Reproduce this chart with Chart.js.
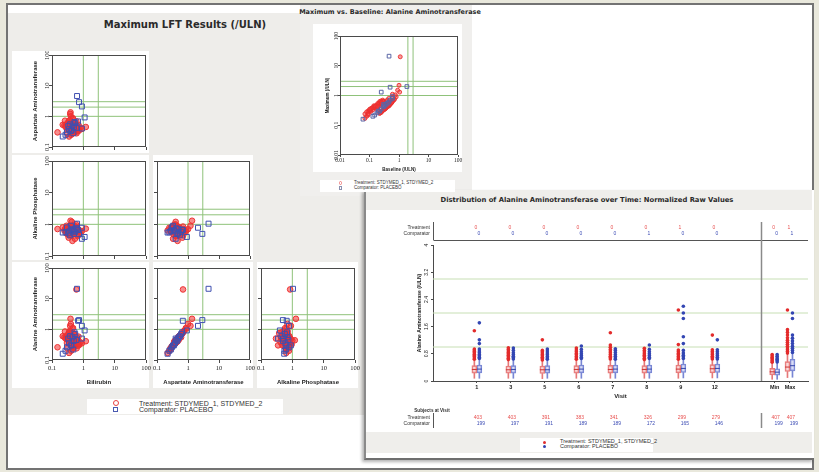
<!DOCTYPE html>
<html><head><meta charset="utf-8">
<title>LFT charts</title>
<script src="https://cdn.jsdelivr.net/npm/chart.js@4.4.1/dist/chart.umd.min.js"></script>
<style>
html,body{margin:0;padding:0}
body{width:819px;height:472px;position:relative;overflow:hidden;background:#e9e8dc;font-family:"Liberation Sans",Arial,sans-serif;color:#222}
.a{position:absolute}
canvas{position:absolute;display:block}
.t{position:absolute;white-space:nowrap;font-family:"DejaVu Sans",Verdana,sans-serif;font-weight:bold;color:#2a2a2a;transform:translate(-50%,-50%);line-height:1}
.lt{position:absolute;white-space:nowrap;transform:translateY(-50%);line-height:1;color:#333}
.circ{position:absolute;border:1px solid #e84040;border-radius:50%;box-sizing:border-box}
.sq{position:absolute;border:1px solid #4a5ab0;box-sizing:border-box}
.dot{position:absolute;border-radius:50%}
</style></head>
<body>
<div class="a" style="left:6px;top:3px;width:804px;height:463px;border:2px solid #737373;background:#fff"></div>
<div class="a" style="left:8px;top:13px;width:358px;height:402px;background:#eeedea"></div>
<div class="a" style="left:300px;top:5px;width:172px;height:191px;background:#f0efed"></div>
<div class="a" style="left:364px;top:190px;width:448px;height:268px;background:#fff;border-left:2px solid #8a8a8a;border-bottom:2px solid #6e6e6e;box-shadow:-2px 2px 3px rgba(0,0,0,.3)"></div>
<div class="a" style="left:366px;top:190px;width:446px;height:20px;background:#efeeeb"></div>
<div class="a" style="left:366px;top:432px;width:446px;height:21px;background:#efeeeb"></div>

<!-- white plot cells -->
<div class="a" style="left:12px;top:51px;width:137px;height:102px;background:#fff"></div>
<div class="a" style="left:12px;top:155px;width:137px;height:105px;background:#fff"></div>
<div class="a" style="left:153px;top:155px;width:100px;height:105px;background:#fff"></div>
<div class="a" style="left:12px;top:262px;width:137px;height:126px;background:#fff"></div>
<div class="a" style="left:153px;top:262px;width:100px;height:126px;background:#fff"></div>
<div class="a" style="left:257px;top:262px;width:101px;height:126px;background:#fff"></div>
<div class="a" style="left:313px;top:24px;width:149px;height:148px;background:#fff"></div>

<!-- titles -->
<div class="t" style="left:185px;top:25px;font-size:10px">Maximum LFT Results (/ULN)</div>
<div class="t" style="left:390px;top:12px;font-size:6.5px">Maximum vs. Baseline: Alanine Aminotransferase</div>
<div class="t" style="left:587px;top:200px;font-size:6.8px">Distribution of Alanine Aminotransferase over Time: Normalized Raw Values</div>

<!-- legends -->
<div class="a" style="left:87px;top:399px;width:196px;height:15px;background:#fff"></div>
<div class="circ" style="left:113px;top:399.5px;width:6px;height:6px"></div>
<div class="sq" style="left:113px;top:406.5px;width:5px;height:5px"></div>
<div class="lt" style="left:139px;top:402.5px;font-size:7px">Treatment: STDYMED_1, STDYMED_2</div>
<div class="lt" style="left:139px;top:409.3px;font-size:7px">Comparator: PLACEBO</div>

<div class="a" style="left:320px;top:180px;width:135px;height:12px;background:#fff"></div>
<div class="circ" style="left:338.5px;top:181.2px;width:3.5px;height:3.5px;border-color:#f08080"></div>
<div class="sq" style="left:338.5px;top:186px;width:3.5px;height:3.5px;border-color:#8a90b0"></div>
<div class="lt" style="left:354px;top:183px;font-size:4.5px">Treatment: STDYMED_1, STDYMED_2</div>
<div class="lt" style="left:354px;top:187.8px;font-size:4.5px">Comparator: PLACEBO</div>

<div class="a" style="left:520px;top:438px;width:133px;height:14px;background:#fff"></div>
<div class="dot" style="left:542.5px;top:440.8px;width:3px;height:3px;background:#e03030"></div>
<div class="dot" style="left:542.5px;top:445.3px;width:3px;height:3px;background:#3344b0"></div>
<div class="lt" style="left:560px;top:442.3px;font-size:5.5px">Treatment: STDYMED_1, STDYMED_2</div>
<div class="lt" style="left:560px;top:446.8px;font-size:5.5px">Comparator: PLACEBO</div>

<script>
// ================= DATA =================
const logTicks = [0.1, 1, 10, 100];
const logTickLabels = ['0.1', '1', '10', '100'];
const midTicks = [0.01, 0.1, 1, 10, 100];
const midTickLabels = ['0.01', '0.1', '1', '10', '100'];
const refULN = [1, 2, 3];
const refULNvMatrix = [1, 3];
const refULNvMid = [2, 3];

// Treatment subjects: maximum values (/ULN)
const trtBili = [0.45,0.38,0.52,0.31,0.60,0.42,0.35,0.48,0.55,0.29,
                 0.40,0.50,0.66,0.36,0.44,0.33,0.58,0.47,0.27,0.72,
                 0.39,0.53,0.43,0.62,0.34,0.46,0.80,0.30,0.41,0.57,
                 0.37,0.49,0.25,0.68,0.44,0.51,0.32,0.90,0.40,0.54,
                 0.36,0.46,0.61,0.28,0.43,0.75,0.50,0.35,0.42,1.20,
                 0.22,0.56,0.39,0.47,0.64,0.33,0.45,0.15,0.60,0.38,
                 0.42,0.47,0.36,0.52,0.44,0.39,0.58,0.33,0.49,0.41,
                 0.46,0.35,0.55,0.43,0.30,0.50,0.38,0.63,0.45,0.34,
                 0.48,0.40,0.53,0.37,0.44,0.57,0.32,0.46,0.51,0.26,
                 0.43,0.55,0.38,0.49,0.70,0.41,0.36,0.45,0.53,0.31];
const trtAst  = [0.42,0.55,0.33,0.60,0.38,0.47,0.70,0.29,0.50,0.44,
                 0.36,0.62,0.41,0.52,0.27,0.48,0.39,0.85,0.45,0.34,
                 0.58,0.40,0.30,0.49,0.66,0.37,0.43,0.54,0.25,0.46,
                 0.75,0.35,0.51,0.42,0.31,0.60,0.47,0.39,1.00,0.33,
                 0.56,0.44,0.28,0.50,0.40,0.37,0.64,0.22,0.48,0.45,
                 0.53,0.36,1.35,0.41,0.32,0.57,0.46,0.30,0.69,1.20,
                 0.45,0.38,0.52,0.41,0.48,0.35,0.44,0.57,0.40,0.50,
                 0.33,0.47,0.43,0.55,0.39,0.46,0.62,0.36,0.42,0.51,
                 0.44,0.49,0.37,0.58,0.41,0.34,0.47,0.53,0.39,0.72,
                 0.48,0.31,0.45,0.40,0.52,0.43,0.36,0.88,0.46,0.27];
const trtAlt  = [0.40,0.60,0.30,0.55,0.42,0.50,0.80,0.25,0.45,0.48,
                 0.33,0.70,0.38,0.58,0.22,0.44,0.43,1.10,0.50,0.30,
                 0.65,0.36,0.28,0.55,0.75,0.40,0.38,0.62,0.20,0.50,
                 0.90,0.32,0.56,0.46,0.27,0.68,0.52,0.35,1.50,0.30,
                 0.62,0.40,0.24,0.56,0.44,0.33,0.72,0.17,0.53,0.41,
                 0.60,0.40,2.20,0.45,0.29,0.64,0.50,0.26,20.0,1.30,
                 0.48,0.36,0.58,0.40,0.52,0.33,0.47,0.63,0.38,0.55,
                 0.30,0.50,0.46,0.62,0.36,0.49,0.70,0.33,0.45,0.57,
                 0.46,0.54,0.35,0.66,0.44,0.31,0.50,0.60,0.37,0.85,
                 0.52,0.28,0.48,0.42,0.58,0.45,0.34,1.05,0.50,0.24];
const trtAlp  = [0.65,0.58,0.72,0.50,0.80,0.62,0.45,0.70,0.55,0.90,
                 0.60,0.68,0.42,0.75,0.64,0.52,1.00,0.59,0.70,0.48,
                 0.66,0.85,0.56,0.62,0.38,0.74,0.60,0.50,0.78,0.67,
                 0.54,0.95,0.63,0.46,0.72,0.58,0.82,0.61,0.70,0.35,
                 0.66,0.53,0.77,0.60,1.20,0.57,0.69,0.64,0.44,0.73,
                 0.80,0.62,1.30,0.50,0.68,0.59,0.30,0.71,0.85,0.90,
                 0.62,0.70,0.58,0.66,0.75,0.60,0.68,0.55,0.72,0.64,
                 0.67,0.59,0.74,0.63,0.56,0.70,0.65,0.78,0.61,0.69,
                 0.57,0.72,0.64,0.68,0.53,0.76,0.62,0.66,0.59,0.71,
                 0.74,0.61,0.67,0.58,0.70,0.63,0.88,0.65,0.56,0.62];
const trtAltBase = [0.15,0.55,0.10,0.22,0.40,0.20,0.45,0.22,0.14,0.42,
                 0.30,0.28,0.13,0.55,0.09,0.38,0.15,0.60,0.48,0.10,
                 0.24,0.34,0.08,0.50,0.70,0.14,0.36,0.22,0.08,0.50,
                 0.80,0.11,0.45,0.17,0.25,0.62,0.20,0.33,0.90,0.09,
                 0.30,0.38,0.07,0.24,0.45,0.13,0.68,0.07,0.52,0.17,
                 0.58,0.15,1.00,0.42,0.11,0.28,0.24,0.23,1.10,1.05,
                 0.20,0.34,0.55,0.14,0.28,0.30,0.46,0.30,0.12,0.52,
                 0.27,0.21,0.44,0.38,0.11,0.47,0.40,0.30,0.16,0.56,
                 0.43,0.19,0.18,0.62,0.22,0.28,0.48,0.25,0.33,0.62,
                 0.26,0.24,0.47,0.19,0.56,0.41,0.10,0.75,0.44,0.09];

// Comparator subjects
const cmpBili = [0.63,0.73,0.90,0.68,1.10,0.22,0.90,0.35,0.45,0.50,0.30,0.55,0.42,0.38,0.60,0.48,0.33,0.52,0.40,0.27];
const cmpAst  = [4.60,2.90,2.10,0.68,0.92,0.22,0.40,0.38,0.50,0.45,0.30,0.60,0.35,0.55,0.42,0.28,0.48,0.65,0.33,0.25];
const cmpAlt  = [21.0,2.00,1.30,1.90,0.92,0.16,0.50,0.35,0.55,0.42,0.26,0.70,0.30,0.60,0.45,0.22,0.50,0.80,0.30,0.20];
const cmpAlp  = [1.05,0.50,0.78,0.66,0.40,0.55,0.35,0.60,0.70,0.50,0.80,0.58,0.65,0.45,0.75,0.62,0.52,0.68,0.90,0.56];
const cmpAltBase = [0.46,1.85,0.25,0.50,0.60,0.06,0.30,0.25,0.40,0.30,0.18,0.50,0.20,0.45,0.32,0.15,0.36,0.60,0.22,0.13];

// Distribution over time
const visitLabels = ['1','3','5','6','7','8','9','12','Min','Max'];
const yTicksRight = [0, 0.8, 1.6, 2.4, 3.2, 4];
const yTickLabelsRight = ['0', '0.8', '1.6', '2.4', '3.2', '4'];
const trtQ1  = [0.23,0.23,0.22,0.23,0.23,0.23,0.24,0.24,0.18,0.28];
const trtMed = [0.34,0.33,0.33,0.34,0.34,0.34,0.35,0.36,0.27,0.41];
const trtQ3  = [0.45,0.44,0.44,0.45,0.46,0.45,0.47,0.48,0.37,0.57];
const trtLo  = [0.08,0.08,0.07,0.08,0.08,0.08,0.08,0.09,0.05,0.10];
const trtHi  = [0.62,0.61,0.60,0.62,0.63,0.62,0.63,0.64,0.53,0.80];
const cmpQ1  = [0.24,0.23,0.23,0.24,0.24,0.24,0.25,0.25,0.17,0.30];
const cmpMed = [0.35,0.34,0.33,0.35,0.35,0.35,0.37,0.37,0.26,0.45];
const cmpQ3  = [0.47,0.45,0.45,0.47,0.47,0.47,0.50,0.50,0.36,0.64];
const cmpLo  = [0.08,0.08,0.08,0.08,0.08,0.08,0.09,0.09,0.05,0.11];
const cmpHi  = [0.64,0.63,0.62,0.64,0.63,0.64,0.65,0.64,0.54,0.82];
const trtOut = [
  [0.64,0.68,0.72,0.75,0.79,0.83,0.87,0.91,0.94,1.48],
  [0.63,0.67,0.71,0.76,0.80,0.84,0.88,0.93,0.98],
  [0.62,0.66,0.70,0.74,0.78,0.82,0.86,0.90,1.21],
  [0.64,0.68,0.72,0.77,0.81,0.86,0.91,0.97],
  [0.65,0.69,0.73,0.78,0.83,0.88,0.93,0.99,1.06,1.42],
  [0.63,0.67,0.72,0.76,0.80,0.85,0.90,0.96],
  [0.64,0.68,0.72,0.77,0.81,0.86,0.91,1.07,2.09],
  [0.65,0.69,0.73,0.78,0.82,0.87,0.92,1.35],
  [0.55,0.59,0.62,0.66,0.70,0.74,0.78],
  [0.82,0.87,0.92,0.97,1.02,1.08,1.14,1.20,1.27,1.35,1.43,1.51,2.09]
];
const cmpOut = [
  [0.66,0.70,0.74,0.78,0.83,0.88,0.94,1.10,1.21,1.71],
  [0.65,0.69,0.73,0.78,0.83,0.90,0.97],
  [0.64,0.68,0.72,0.77,0.82,0.88,0.94],
  [0.66,0.70,0.75,0.80,0.86,0.93,1.03],
  [0.64,0.68,0.73,0.78,0.84,0.90,0.95],
  [0.66,0.70,0.75,0.80,0.86,0.93,1.06],
  [0.66,0.71,0.76,0.82,0.90,1.10,1.30,1.84,2.00,2.20],
  [0.65,0.70,0.75,0.80,0.86,0.92,1.21],
  [0.56,0.60,0.64,0.68,0.73,0.78],
  [0.84,0.90,0.96,1.02,1.10,1.18,1.26,1.35,1.84,2.00]
];
const trtTop = [0,0,0,0,0,0,1,0,0,1];
const cmpTop = [0,0,0,0,0,1,0,0,0,1];
const trtN = [403,403,391,383,341,326,299,279,407,407];
const cmpN = [199,197,191,189,189,172,165,146,199,199];

// ================= STYLE / LAYOUT =================
const RED = '#ee3434', BLUE = '#3f4fb0', GREEN = '#8fc27a', GREEN2 = '#c7dfb4', AXIS = '#4a4a4a';
const SERIF = '"Liberation Serif", "Times New Roman", serif';
const SANS = '"Liberation Sans", Arial, sans-serif';
Chart.defaults.font.family = SANS;
Chart.defaults.color = '#222';

const trt = {bili: trtBili, ast: trtAst, alt: trtAlt, alp: trtAlp};
const cmp = {bili: cmpBili, ast: cmpAst, alt: cmpAlt, alp: cmpAlp};

function mkCanvas(l, t, w, h) {
  const c = document.createElement('canvas');
  c.width = w; c.height = h;
  c.style.left = l + 'px'; c.style.top = t + 'px';
  c.style.width = w + 'px'; c.style.height = h + 'px';
  document.body.appendChild(c);
  return c;
}
const fixSize = sz => s => {
  if (s.isHorizontal()) s.height = sz; else s.width = sz;
  s.paddingLeft = 0; s.paddingRight = 0; s.paddingTop = 0; s.paddingBottom = 0;
};
const pairs = (xa, ya) => xa.map((v, i) => ({x: v, y: ya[i]}));

function refSets(hVals, vVals, lo, hi, color) {
  const base = {type: 'line', order: 9, borderColor: color, borderWidth: 1, pointRadius: 0, fill: false};
  return [
    ...hVals.map(v => Object.assign({}, base, {data: [{x: lo, y: v}, {x: hi, y: v}]})),
    ...vVals.map(v => Object.assign({}, base, {data: [{x: v, y: lo}, {x: v, y: hi}]}))
  ];
}

const framePlugin = {
  id: 'frame',
  afterDraw(chart, args, opts) {
    const {ctx, chartArea: a} = chart;
    ctx.save();
    ctx.strokeStyle = opts.color || AXIS;
    ctx.lineWidth = 1;
    ctx.strokeRect(Math.round(a.left) + 0.5, Math.round(a.top) + 0.5,
                   Math.round(a.right - a.left) - 1, Math.round(a.bottom - a.top) - 1);
    ctx.restore();
  }
};

function logAxis(o) {
  return {
    type: 'logarithmic', min: o.tv[0], max: o.tv[o.tv.length - 1],
    afterBuildTicks: s => { s.ticks = o.tv.map(v => ({value: v})); },
    afterFit: fixSize(o.size),
    border: {display: false},
    grid: {display: true, drawOnChartArea: false, drawTicks: true, tickLength: o.tickLen, color: AXIS, lineWidth: 1},
    ticks: {display: o.labels, autoSkip: false, callback: (v, i) => o.tl[i],
            font: {family: SERIF, size: o.tickFont}, color: '#222', padding: o.tickPad,
            minRotation: o.rot || 0, maxRotation: o.rot || 0, crossAlign: o.rot ? 'center' : 'near'},
    title: {display: !!o.title, text: o.title || '', color: '#222',
            font: {family: SANS, size: o.titleFont, weight: 'bold'}, padding: o.titlePad}
  };
}

// ================= MATRIX =================
const cells = [
  {box: [12, 51, 137, 102], plot: [52, 55, 146, 147], xk: 'bili', yk: 'ast', yLab: true, yTitle: 'Aspartate Aminotransferase'},
  {box: [12, 155, 137, 105], plot: [52, 161, 146, 256], xk: 'bili', yk: 'alp', yLab: true, yTitle: 'Alkaline Phosphatase'},
  {box: [153, 155, 100, 105], plot: [157, 161, 250, 256], xk: 'ast', yk: 'alp'},
  {box: [12, 262, 137, 126], plot: [52, 268, 146, 360], xk: 'bili', yk: 'alt', yLab: true, xLab: true, xTitle: 'Bilirubin', yTitle: 'Alanine Aminotransferase'},
  {box: [153, 262, 100, 126], plot: [157, 268, 250, 360], xk: 'ast', yk: 'alt', xLab: true, xTitle: 'Aspartate Aminotransferase'},
  {box: [257, 262, 101, 126], plot: [261, 268, 355, 360], xk: 'alp', yk: 'alt', xLab: true, xTitle: 'Alkaline Phosphatase'}
];

cells.forEach(c => {
  const [bl, bt, bw, bh] = c.box;
  const [pl, pt, pr, pb] = c.plot;
  const cl = bl - 6, cw = bw + 12;
  const cv = mkCanvas(cl, bt, cw, bh);
  new Chart(cv, {
    type: 'scatter',
    data: {datasets: [
      {label: 'Comparator: PLACEBO', order: 0, data: pairs(cmp[c.xk], cmp[c.yk]), pointStyle: 'rect',
       pointRadius: 3.5, borderColor: BLUE, backgroundColor: 'rgba(0,0,0,0)', borderWidth: 1},
      {label: 'Treatment: STDYMED_1, STDYMED_2', order: 1, data: pairs(trt[c.xk], trt[c.yk]), pointStyle: 'circle',
       pointRadius: 2.8, borderColor: RED, backgroundColor: 'rgba(240,45,45,0.55)', borderWidth: 1},
      ...refSets(refULN, refULNvMatrix, logTicks[0], logTicks[logTicks.length - 1], GREEN)
    ]},
    options: {
      responsive: false, animation: false, events: [],
      layout: {padding: {left: 0, top: pt - bt, right: cl + cw - pr, bottom: 0}, autoPadding: false},
      plugins: {legend: {display: false}, tooltip: {enabled: false}, frame: {color: AXIS}},
      scales: {
        x: logAxis({size: bt + bh - pb, labels: !!c.xLab, title: c.xTitle, titleFont: 6, titlePad: {top: 0, bottom: 2.4},
                    tickFont: 6.5, tickPad: 1.1, tickLen: 3, tv: logTicks, tl: logTickLabels}),
        y: logAxis({size: pl - cl, labels: !!c.yLab, title: c.yTitle, titleFont: 6, titlePad: {top: 25.4, bottom: 0},
                    tickFont: 6.5, tickPad: -3.4, tickLen: 3, rot: 90, tv: logTicks, tl: logTickLabels})
      }
    },
    plugins: [framePlugin]
  });
});

// ================= MAX vs BASELINE =================
(function () {
  const cl = 307, ct = 24, cw = 161, ch = 148;
  const cv = mkCanvas(cl, ct, cw, ch);
  new Chart(cv, {
    type: 'scatter',
    data: {datasets: [
      {label: 'Comparator: PLACEBO', order: 0, data: pairs(cmpAltBase, cmpAlt), pointStyle: 'rect',
       pointRadius: 2.6, borderColor: '#5a66a6', backgroundColor: 'rgba(0,0,0,0)', borderWidth: 1},
      {label: 'Treatment: STDYMED_1, STDYMED_2', order: 1, data: pairs(trtAltBase, trtAlt), pointStyle: 'circle',
       pointRadius: 2, borderColor: 'rgba(236,48,48,0.9)', backgroundColor: 'rgba(240,60,60,0.5)', borderWidth: 1},
      ...refSets(refULN, refULNvMid, midTicks[0], midTicks[midTicks.length - 1], GREEN)
    ]},
    options: {
      responsive: false, animation: false, events: [],
      layout: {padding: {left: 0, top: 12, right: cw - (458 - cl), bottom: 0}, autoPadding: false},
      plugins: {legend: {display: false}, tooltip: {enabled: false}, frame: {color: AXIS}},
      scales: {
        x: logAxis({size: ct + ch - 155, labels: true, title: 'Baseline (/ULN)', titleFont: 4.5, titlePad: {top: 0, bottom: 0},
                    tickFont: 5.5, tickPad: 0, tickLen: 2, tv: midTicks, tl: midTickLabels}),
        y: logAxis({size: 340 - cl, labels: true, title: 'Maximum (/ULN)', titleFont: 4.5, titlePad: {top: 18.3, bottom: 0},
                    tickFont: 5.5, tickPad: -3.8, tickLen: 2, rot: 90, tv: midTicks, tl: midTickLabels})
      }
    },
    plugins: [framePlugin]
  });
})();

// ================= DISTRIBUTION OVER TIME =================
(function () {
  const catPos = visitLabels.map((l, i) => i < 8 ? i + 1 : (i === 8 ? 9.76 : 10.21));
  const dividerPos = 9.35, xMin = -0.29, xMax = 10.74;
  const off = 2.5 / 34;

  function armSets(q1, med, q3, lo, hi, out, sign, col, name) {
    const xs = catPos.map(p => p + sign * off);
    return [
      {type: 'scatter', label: name, order: 0, data: out.flatMap((arr, i) => arr.map(v => ({x: xs[i], y: v}))),
       pointRadius: 1.8, backgroundColor: col.dot, borderWidth: 0},
      {type: 'scatter', order: 1, data: med.map((v, i) => ({x: xs[i], y: v})), pointStyle: 'line',
       pointRadius: 2.5, borderColor: col.med, borderWidth: 1},
      {type: 'bar', order: 2, grouped: false, barThickness: 5, maxBarThickness: 5,
       data: q1.map((v, i) => ({x: xs[i], y: [v, q3[i]]})),
       backgroundColor: col.fill, borderColor: col.line, borderWidth: 1, borderSkipped: false},
      {type: 'bar', order: 3, grouped: false, barThickness: 1, maxBarThickness: 1,
       data: lo.map((v, i) => ({x: xs[i], y: [v, q1[i]]})), backgroundColor: col.line, borderWidth: 0},
      {type: 'bar', order: 3, grouped: false, barThickness: 1, maxBarThickness: 1,
       data: q3.map((v, i) => ({x: xs[i], y: [v, hi[i]]})), backgroundColor: col.line, borderWidth: 0}
    ];
  }
  const redCol = {dot: '#e32b2b', med: '#cc3333', fill: 'rgba(245,170,170,0.45)', line: '#e67878'};
  const blueCol = {dot: '#3346b3', med: '#3344aa', fill: 'rgba(170,180,235,0.45)', line: '#7886d4'};

  const tablePlugin = {
    id: 'visitTables',
    afterDraw(chart) {
      const {ctx, chartArea: a, scales: {x}} = chart;
      const L = Math.round(a.left) + 0.5;
      const D = Math.round(x.getPixelForValue(dividerPos)) + 0.5;
      const seg = (x1, y1, x2, y2) => { ctx.beginPath(); ctx.moveTo(x1, y1); ctx.lineTo(x2, y2); ctx.stroke(); };
      ctx.save();
      ctx.strokeStyle = '#555'; ctx.lineWidth = 1;
      seg(L, a.top - 23, L, a.top - 5);
      seg(L, Math.round(a.top - 5) + 0.5, a.right, Math.round(a.top - 5) + 0.5);
      seg(L, a.bottom + 32, L, a.bottom + 47);
      ctx.strokeStyle = '#8a8a8a'; ctx.lineWidth = 1.5;
      seg(D, a.top - 23, D, a.bottom);
      seg(D, a.bottom + 32, D, a.bottom + 47);
      ctx.textBaseline = 'middle';
      ctx.fillStyle = '#333';
      ctx.textAlign = 'right';
      ctx.font = '5px ' + SANS;
      ctx.fillText('Treatment', a.left - 3, a.top - 17);
      ctx.fillText('Comparator', a.left - 3, a.top - 11);
      ctx.fillText('Treatment', a.left - 3, a.bottom + 37);
      ctx.fillText('Comparator', a.left - 3, a.bottom + 43);
      ctx.font = 'bold 4.6px ' + SANS;
      ctx.textAlign = 'center';
      ctx.fillText('Subjects at Visit', a.left - 1, a.bottom + 30);
      ctx.font = '5px ' + SANS;
      catPos.forEach((p, i) => {
        const px = x.getPixelForValue(p);
        ctx.fillStyle = '#e8504f';
        ctx.fillText(String(trtTop[i]), px - 1, a.top - 17);
        ctx.fillText(String(trtN[i]), px + 1, a.bottom + 37);
        ctx.fillStyle = '#3d4db5';
        ctx.fillText(String(cmpTop[i]), px + 2, a.top - 11);
        ctx.fillText(String(cmpN[i]), px + 4, a.bottom + 43);
      });
      ctx.restore();
    }
  };

  const cl = 364, ct = 210, cw = 448, ch = 222;
  const cv = mkCanvas(cl, ct, cw, ch);
  new Chart(cv, {
    type: 'bar',
    data: {datasets: [
      ...armSets(trtQ1, trtMed, trtQ3, trtLo, trtHi, trtOut, -1, redCol, 'Treatment: STDYMED_1, STDYMED_2'),
      ...armSets(cmpQ1, cmpMed, cmpQ3, cmpLo, cmpHi, cmpOut, 1, blueCol, 'Comparator: PLACEBO'),
      ...refULN.map(v => ({type: 'line', order: 9, data: [{x: xMin, y: v}, {x: xMax, y: v}],
                           borderColor: GREEN2, borderWidth: 1, pointRadius: 0, fill: false}))
    ]},
    options: {
      responsive: false, animation: false, events: [],
      layout: {padding: {left: 0, top: 245 - ct, right: cl + cw - 808, bottom: 0}, autoPadding: false},
      plugins: {legend: {display: false}, tooltip: {enabled: false}},
      scales: {
        x: {type: 'linear', min: xMin, max: xMax, offset: false,
            afterFit: fixSize(ct + ch - 381),
            afterBuildTicks: s => { s.ticks = catPos.map(v => ({value: v})); },
            ticks: {autoSkip: false, callback: (v, i) => visitLabels[i], font: {size: 5.5, weight: 'bold'},
                    color: '#222', padding: 0.7, minRotation: 0, maxRotation: 0},
            grid: {display: true, drawOnChartArea: false, offset: false, tickLength: 2, color: AXIS},
            border: {display: true, color: AXIS},
            title: {display: true, text: 'Visit', font: {size: 6, weight: 'bold'}, color: '#222', padding: {top: 0, bottom: 32.4}}},
        y: {type: 'linear', min: 0, max: 4,
            afterFit: fixSize(433 - cl),
            afterBuildTicks: s => { s.ticks = yTicksRight.map(v => ({value: v})); },
            ticks: {autoSkip: false, callback: (v, i) => yTickLabelsRight[i], font: {size: 5}, color: '#222',
                    padding: 0.5, minRotation: 90, maxRotation: 90, crossAlign: 'center'},
            grid: {display: true, drawOnChartArea: false, tickLength: 2, color: AXIS},
            border: {display: true, color: AXIS},
            title: {display: true, text: 'Alanine Aminotransferase (/ULN)', font: {size: 5, weight: 'bold'}, color: '#222',
                    padding: {top: 53, bottom: 0}}}
      }
    },
    plugins: [tablePlugin]
  });
})();
</script>
</body></html>
